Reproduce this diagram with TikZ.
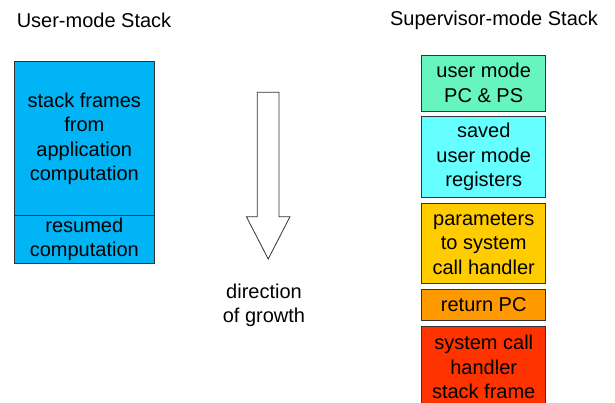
\documentclass[tikz,border=0pt]{standalone}
\usepackage{fontspec}
\setmainfont{Liberation Sans}
\definecolor{ublue}{HTML}{00B4F5}
\definecolor{mint}{HTML}{66F5BE}
\definecolor{lcyan}{HTML}{66FFFF}
\definecolor{gold}{HTML}{FFCC00}
\definecolor{orng}{HTML}{FF9900}
\definecolor{redo}{HTML}{FF3300}
\definecolor{edge}{HTML}{333333}
\begin{document}
\begin{tikzpicture}[x=1pt,y=-1pt,
  txt/.style={font=\fontsize{20}{24.5}\selectfont, align=center, inner sep=0pt},
  stackbox/.style={txt, draw=edge, line width=0.9pt, minimum width=124pt},
  leftbox/.style={txt, draw=edge, line width=0.9pt, fill=ublue, minimum width=139.3pt}]
\clip (0,0) rectangle (615,403);
\fill[white] (0,0) rectangle (615,403);
% titles
\node[txt] (tl) at (94,20) {User-mode Stack};
\node[txt] (tr) at (494,20) {Supervisor-mode Stack};
% left stack
\node[leftbox, minimum height=154pt] (app) at (84.3,138.7) {stack frames\\from\\application\\computation};
\node[leftbox, minimum height=47.3pt] (res) at (84.3,239.3) {resumed\\computation};
% right stack
\node[stackbox, fill=mint, minimum height=56pt] (pcps) at (483.7,83) {user mode\\PC \& PS};
\node[stackbox, fill=lcyan, minimum height=80.6pt] (regs) at (483.7,157) {saved\\user mode\\registers};
\node[stackbox, fill=gold, minimum height=80pt] (params) at (483.7,243.3) {parameters\\to system\\call handler};
\node[stackbox, fill=orng, minimum height=30.7pt] (rpc) at (483.7,304.7) {return PC};
\node[stackbox, fill=redo, minimum height=81.3pt] (sysf) at (483.7,367.3) {system call\\handler\\stack frame};
% arrow
\draw[edge, line width=0.8pt, fill=white, line join=miter]
  (257.3,92.3) -- (279,92.3) -- (279,216.7) -- (290,216.7) -- (268.2,259)
  -- (246.4,216.7) -- (257.3,216.7) -- cycle;
\node[txt] (dir) at (264,305.5) {direction\\of growth};
\end{tikzpicture}
\end{document}
